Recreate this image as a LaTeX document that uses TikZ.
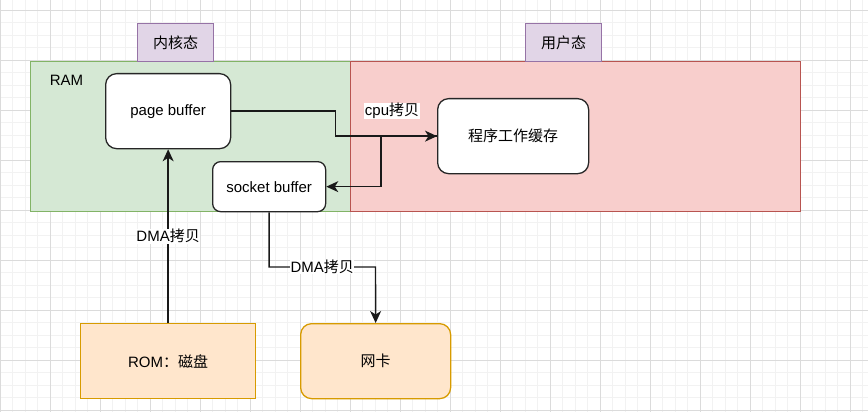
\documentclass[tikz,border=0pt]{standalone}
\usepackage{fontspec}
\setmainfont{Liberation Sans}
\newfontfamily\cjk{Noto Sans CJK SC}
\usetikzlibrary{arrows.meta}
\definecolor{ramfill}{HTML}{D5E8D4}
\definecolor{ramline}{HTML}{82B366}
\definecolor{usrfill}{HTML}{F8CECC}
\definecolor{usrline}{HTML}{B85450}
\definecolor{tagfill}{HTML}{E1D5E7}
\definecolor{tagline}{HTML}{9673A6}
\definecolor{devfill}{HTML}{FFE6CC}
\definecolor{devline}{HTML}{D79B00}
\begin{document}
\begin{tikzpicture}[
  x=1pt, y=-1pt,
  font=\fontsize{15}{18}\selectfont,
  region/.style={rectangle, line width=1.3pt, anchor=north west, inner sep=0pt},
  tag/.style={rectangle, fill=tagfill, draw=tagline, line width=1.3pt, anchor=north west,
    minimum width=76, minimum height=38, inner sep=0pt},
  buf/.style={rectangle, rounded corners=11pt, fill=white, draw=black!85, line width=1.3pt,
    anchor=north west, inner sep=0pt},
  dev/.style={rectangle, fill=devfill, draw=devline, line width=1.3pt, anchor=north west,
    minimum width=175, minimum height=75, inner sep=0pt},
  link/.style={line width=1.4pt, black!90, -{Stealth[length=12pt, width=11pt, inset=3.5pt]}},
  lbl/.style={fill=white, inner sep=0.5pt, text=black}
]
\useasboundingbox (0,0) rectangle (868,412);
% grid
\foreach \x in {0,12.5,...,868} \draw[black!5, line width=0.8pt] (\x,0) -- (\x,412);
\foreach \y in {-2.5,10,...,412} \draw[black!5, line width=0.8pt] (0,\y) -- (868,\y);
\foreach \x in {0,50,...,868} \draw[black!14, line width=0.8pt] (\x,0) -- (\x,412);
\foreach \y in {10,60,...,412} \draw[black!14, line width=0.8pt] (0,\y) -- (868,\y);
% memory regions
\node[region, fill=ramfill, draw=ramline, minimum width=320, minimum height=150] (kernel) at (30,61) {};
\node[region, fill=usrfill, draw=usrline, minimum width=450, minimum height=150] (user) at (350,61) {};
\node[tag] (kerneltag) at (137,23) {\cjk 内核态};
\node[tag] (usertag) at (525,23) {\cjk 用户态};
\node (ram) at (66.5,80) {RAM};
% buffers
\node[buf, minimum width=125, minimum height=75] (page) at (105,73) {page buffer};
\node[buf, rounded corners=8pt, minimum width=113, minimum height=50] (sock) at (212,161) {socket buffer};
\node[buf, minimum width=151, minimum height=75] (prog) at (437,98) {\cjk 程序工作缓存};
% devices
\node[dev] (rom) at (80,323) {ROM{\cjk ：磁盘}};
\node[dev, rounded corners=11pt, minimum width=150] (nic) at (300,323) {\cjk 网卡};
% copies
\draw[link] (page.east) -- ++(104,0) |- (prog.west);
\draw[link] (prog.west) -- ++(-56,0) |- (sock.east);
\node[lbl] (cpulbl) at (392,111) {cpu{\cjk 拷贝}};
\draw[link] (rom.north) -- node[lbl] {DMA{\cjk 拷贝}} (page.south);
\coordinate (bend) at (375.5,267);
\draw[link] (sock.south) |- node[lbl, pos=0.75] {DMA{\cjk 拷贝}} (bend) -- (nic.north);
\end{tikzpicture}
\end{document}
